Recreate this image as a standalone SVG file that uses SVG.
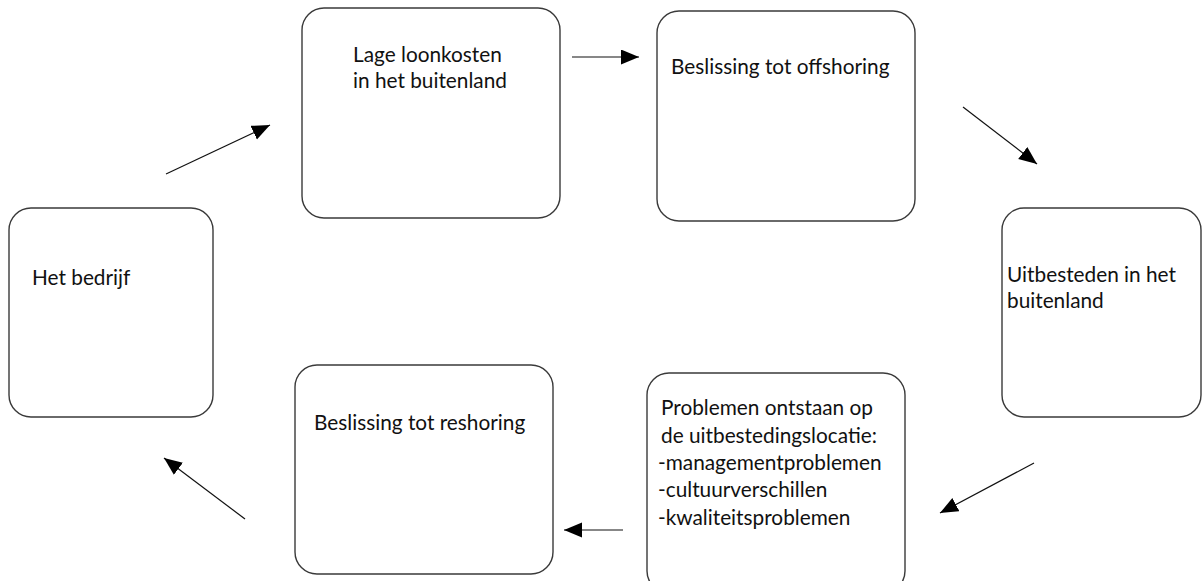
<svg xmlns="http://www.w3.org/2000/svg" width="1203" height="581" viewBox="0 0 1203 581">
<style>
.box{fill:#fff;stroke:#3a3a3a;stroke-width:1.4}
.t{font-family:Lato,"Liberation Sans",sans-serif;font-size:20.8px;fill:#111}
.c{stroke:#111;stroke-width:1.2;fill:none;marker-end:url(#ah)}
</style>
<defs>
<marker id="ah" markerUnits="userSpaceOnUse" markerWidth="20" markerHeight="16" refX="18" refY="7.5" orient="auto">
<path d="M0,0 L18,7.5 L0,15 Z" fill="#000"/>
</marker>
</defs>
<rect width="1203" height="581" fill="#fff"/>
<g id="node-bedrijf"><rect class="box" x="9" y="208" width="204" height="209" rx="22"/><text class="t" x="32" y="285">Het bedrijf</text></g>
<g id="node-loonkosten"><rect class="box" x="302" y="8" width="258" height="210" rx="22"/><text class="t" x="353" y="62">Lage loonkosten</text><text class="t" x="353" y="88">in het buitenland</text></g>
<g id="node-offshoring"><rect class="box" x="657" y="11" width="258" height="210" rx="22"/><text class="t" x="671" y="74">Beslissing tot offshoring</text></g>
<g id="node-uitbesteden"><rect class="box" x="1002" y="208" width="199" height="209" rx="22"/><text class="t" x="1007" y="282">Uitbesteden in het</text><text class="t" x="1007" y="308">buitenland</text></g>
<g id="node-problemen"><rect class="box" x="647" y="373" width="258" height="220" rx="22"/><text class="t" x="661" y="415">Problemen ontstaan op</text><text class="t" x="661" y="443">de uitbestedingslocatie:</text><text class="t" x="658" y="470">-managementproblemen</text><text class="t" x="658" y="497">-cultuurverschillen</text><text class="t" x="658" y="525">-kwaliteitsproblemen</text></g>
<g id="node-reshoring"><rect class="box" x="295" y="365" width="258" height="209" rx="22"/><text class="t" x="314" y="430">Beslissing tot reshoring</text></g>
<g id="connectors">
<line class="c" x1="166" y1="174" x2="270" y2="125"/>
<line class="c" x1="572" y1="57" x2="639" y2="57"/>
<line class="c" x1="963" y1="107" x2="1037" y2="164"/>
<line class="c" x1="1034" y1="463" x2="940" y2="513"/>
<line class="c" x1="623" y1="530" x2="564" y2="530"/>
<line class="c" x1="245" y1="519" x2="164" y2="458"/>
</g>
</svg>
